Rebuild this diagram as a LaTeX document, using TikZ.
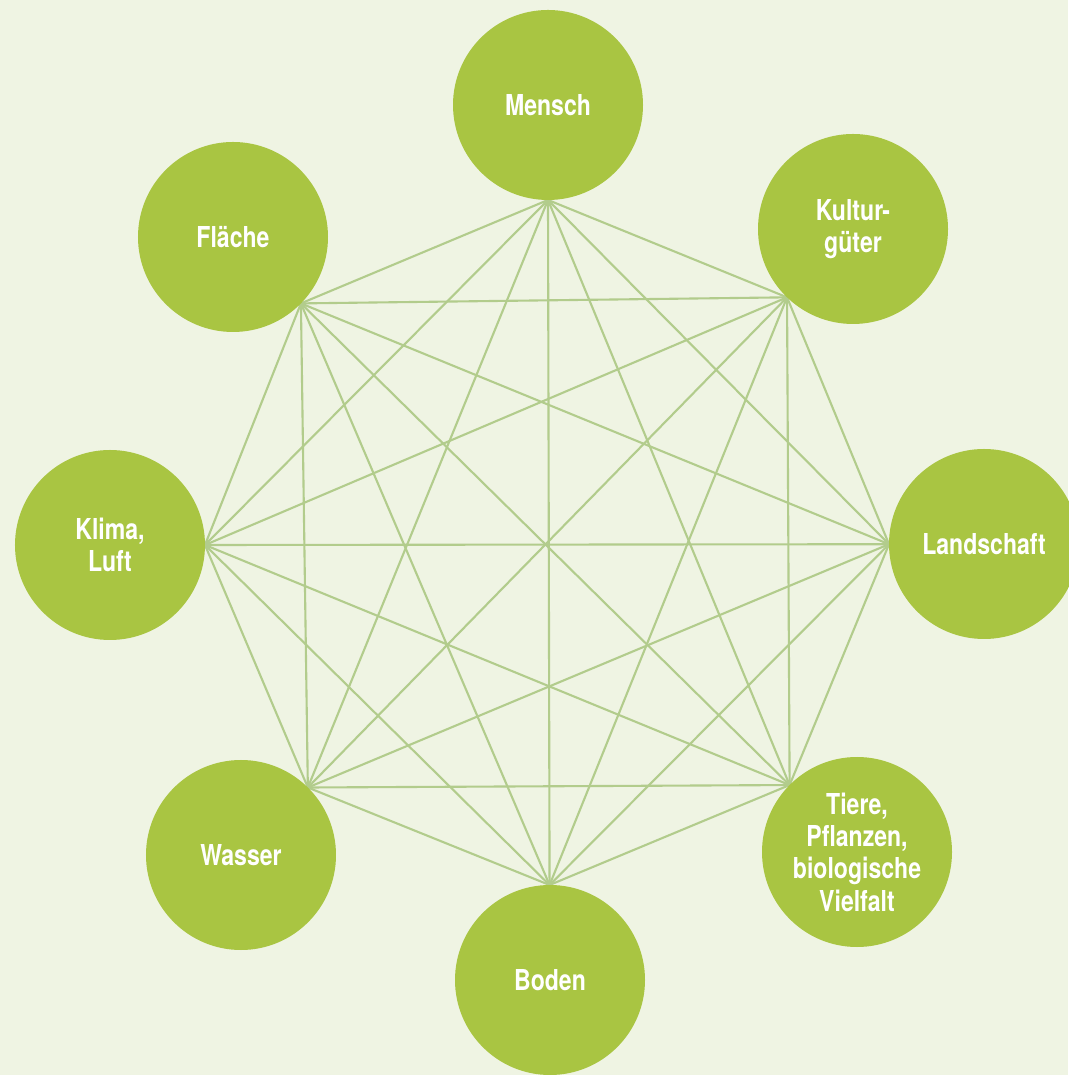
\documentclass[tikz,border=0pt]{standalone}
\usepackage{fontspec}
\setmainfont{TeX Gyre Heros}[FakeStretch=0.8]
\usetikzlibrary{positioning, backgrounds, calc}
\definecolor{paleGreen}{RGB}{239,244,227}
\definecolor{topicGreen}{RGB}{169,197,66}
\definecolor{linkGreen}{RGB}{178,204,140}
\tikzset{
topic/.style={circle, fill=topicGreen, minimum size=1.9cm, inner sep=0pt, text=white, align=center, font=\bfseries\fontsize{8.2}{9.2}\selectfont}, % the green circles
link/.style={draw=linkGreen, line width=0.6pt}, % the lines between the circles
}

\begin{document}
\begin{tikzpicture}
            \useasboundingbox (-5.48,-5.30) rectangle (5.20,5.45);
            \node[topic] (mensch) at (0,4.40) {Mensch};
            \node[topic] (kultur) at (3.05,3.16) {Kultur-\\güter};
            \node[topic] (land) at (4.36,0.01) {Landschaft};
            \node[topic] (tiere) at (3.09,-3.07) {Tiere,\\Pflanzen,\\biologische\\Vielfalt};
            \node[topic] (boden) at (0.02,-4.35) {Boden};
            \node[topic] (wasser) at (-3.07,-3.10) {Wasser};
            \node[topic] (klima) at (-4.38,0) {Klima,\\Luft};
            \node[topic] (flaeche) at (-3.15,3.08) {Fläche};
            % every line starts on the side of a circle that faces the middle
            \foreach \n [count=\i] in {mensch, kultur, land, tiere, boden, wasser, klima, flaeche}
                \coordinate (p\i) at ($(\n)!0.95cm!(0,0)$);
            \begin{pgfonlayer}{background}
                \fill[paleGreen] (-5.48,-5.30) rectangle (5.20,5.45);
                \foreach \i in {1,...,7} {
                    \pgfmathtruncatemacro\first{\i+1}
                    \foreach \j in {\first,...,8}
                        \draw[link] (p\i) -- (p\j);
                }
            \end{pgfonlayer}
\end{tikzpicture}
\end{document}
